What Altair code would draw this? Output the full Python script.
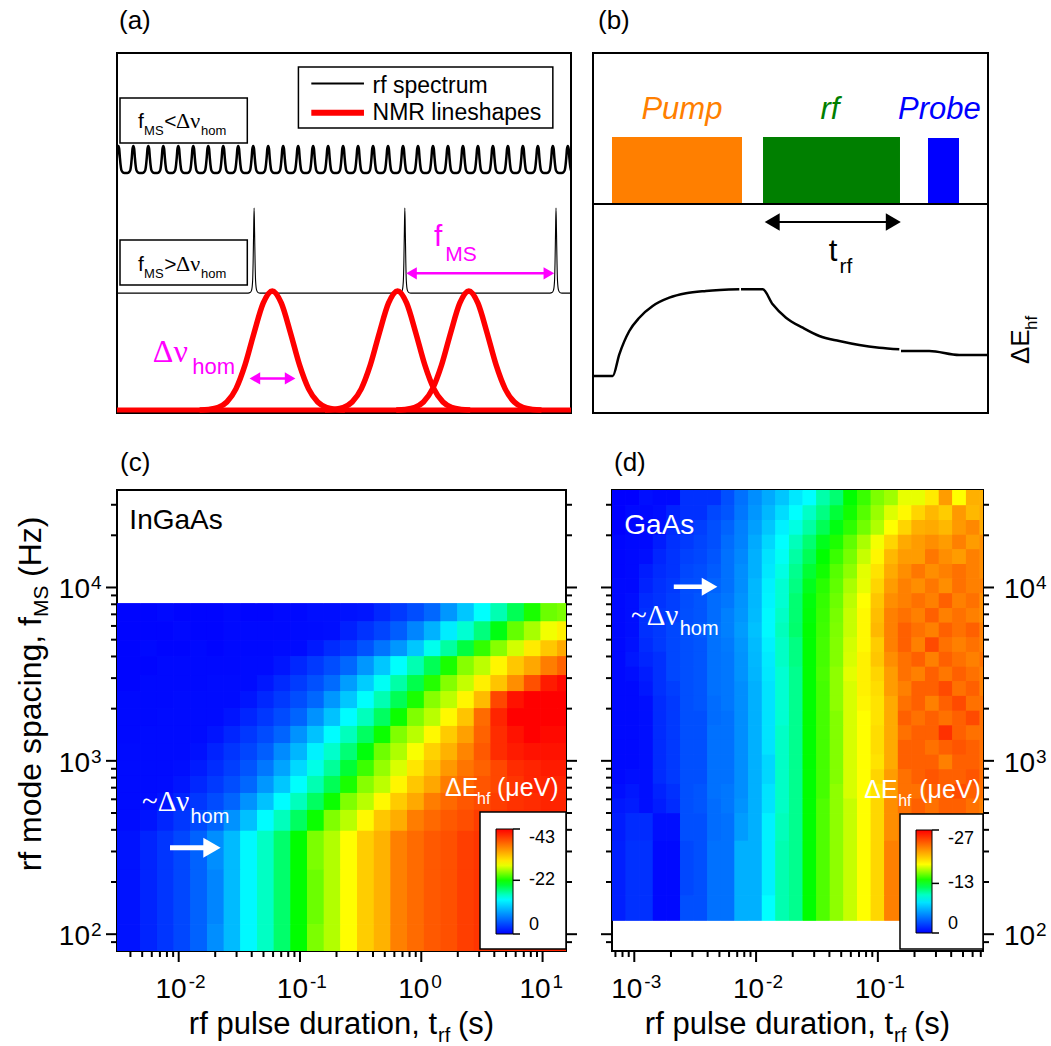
import altair as alt
import pandas as pd

FONT = "Liberation Sans"
SERIF = "Liberation Serif"
MAGENTA = "#FF00FF"
ONE = pd.DataFrame({"k": [0]})

# ======================= DATA =======================
# ---- panel (a): schematic spectra, arbitrary units 0..100 ----
comb_centers = [0.3, 3.6, 6.9, 10.2, 13.5, 16.8, 20.1, 23.4, 26.7, 30.0, 33.3, 36.6, 39.9,
                43.2, 46.5, 49.8, 53.1, 56.4, 59.7, 63.0, 66.3, 69.6, 72.9, 76.2, 79.5,
                82.8, 86.1, 89.4, 92.7, 96.0, 99.3]
comb_dx = [-1.65, -1.1, -0.88, -0.66, -0.49, -0.33, -0.18, 0.0, 0.18, 0.33, 0.49, 0.66, 0.88, 1.1]
comb_y = [66.7, 66.75, 67.0, 67.5, 68.9, 71.1, 73.4, 74.2, 73.4, 71.1, 68.9, 67.5, 67.0, 66.75]

sparse_centers = [30.2, 63.4, 96.7]
sparse_dx = [-1.32, -0.88, -0.55, -0.33, -0.22, -0.11, 0.0, 0.11, 0.22, 0.33, 0.55, 0.88, 1.32]
sparse_y = [33.3, 33.44, 34.13, 36.63, 41.63, 49.97, 56.9, 49.97, 41.63, 36.63, 34.13, 33.44, 33.3]

gauss_centers = [34.2, 61.8, 77.5]
gauss_dx = [-16, -14, -12, -10, -8, -6, -4, -2, 0, 2, 4, 6, 8, 10, 12, 14, 16]
gauss_y = [0.8, 0.97, 1.5, 3.05, 6.7, 13.35, 22.3, 30.5, 33.9, 30.5, 22.3, 13.35, 6.7, 3.05, 1.5, 0.97, 0.8]

# ---- panel (b): Delta E_hf trace, arbitrary units ----
trace_x = [[0, 4.99, 6.66, 9.19, 11.72, 15.11, 19.32, 23.54, 28.61, 37.04],
           [37.47, 42.96, 45.49, 48.86, 53.09, 57.29, 62.35, 67.42, 72.48, 77.54],
           [77.97, 85.14, 92.73, 100.0]]
trace_y = [[10.28, 10.28, 16.31, 22.78, 26.47, 29.72, 32.03, 33.25, 33.89, 34.36],
           [34.36, 34.36, 30.19, 26.47, 23.69, 21.39, 20.0, 18.89, 18.14, 17.69],
           [17.22, 17.22, 16.11, 16.11]]

# ---- panel (c): InGaAs map, |Delta E_hf| in ueV ----
c_t_edges = [0.0031, 0.00482, 0.00662, 0.00908, 0.01247, 0.0171, 0.0235, 0.0322, 0.0443,
             0.0607, 0.0834, 0.1143, 0.157, 0.215, 0.296, 0.406, 0.557, 0.764, 1.05, 1.44,
             1.98, 2.71, 3.72, 5.11, 7.01, 9.62, 13.2, 15.6]
c_f_edges = [8090, 6370, 4950, 4010, 3120, 2520, 2010, 1590, 1265, 1010, 818, 653, 521, 395, 235, 114, 80]
c_mag = [
    [0.3, 0.3, 0.5, 0.3, 0.3, 0.3, 0.5, 0.3, 0.3, 0.5, 0.5, 0.8, 0.8, 1.0, 1.2, 2.2, 3.2, 4.3, 5.8, 8.5, 11.2, 14.4, 16.5, 19.1, 22.2, 24.5, 25.0],
    [0.3, 0.3, 0.3, 0.5, 0.3, 0.3, 0.5, 0.5, 0.5, 0.5, 0.6, 0.7, 0.8, 1.8, 2.8, 3.8, 5.2, 7.5, 10.0, 13.3, 15.6, 18.0, 21.0, 24.3, 26.2, 28.3, 29.5],
    [0.3, 0.5, 0.3, 0.3, 0.5, 0.3, 0.5, 0.5, 0.5, 0.6, 0.6, 1.4, 2.4, 3.2, 4.6, 6.5, 8.5, 11.2, 14.8, 17.0, 19.7, 22.9, 25.3, 27.4, 29.8, 31.8, 33.5],
    [0.3, 0.3, 0.5, 0.5, 0.5, 0.5, 0.5, 0.6, 0.6, 1.2, 2.2, 3.2, 4.3, 5.8, 8.5, 11.2, 14.4, 16.5, 19.1, 22.2, 25.3, 26.8, 29.2, 31.8, 33.6, 36.0, 37.5],
    [0.3, 0.5, 0.5, 0.5, 0.5, 0.6, 0.6, 0.6, 1.3, 2.3, 3.3, 4.5, 6.0, 8.8, 11.5, 14.6, 16.8, 19.4, 22.5, 25.2, 27.0, 29.5, 32.0, 35.0, 38.5, 41.5, 42.5],
    [0.5, 0.5, 0.5, 0.6, 0.6, 0.6, 0.6, 1.2, 2.2, 3.2, 4.3, 5.8, 8.5, 11.2, 14.4, 16.5, 19.1, 22.2, 25.3, 26.8, 29.2, 32.5, 39.0, 42.0, 43.0, 43.0, 43.0],
    [0.5, 0.5, 0.6, 0.6, 0.6, 0.6, 1.1, 2.1, 3.1, 4.2, 5.6, 8.2, 10.9, 14.2, 16.2, 18.8, 21.8, 25.1, 26.7, 29.0, 32.0, 37.0, 41.0, 43.0, 43.0, 43.0, 43.0],
    [0.5, 0.6, 0.6, 0.6, 0.6, 1.1, 2.1, 3.1, 4.2, 5.6, 8.2, 10.9, 14.2, 16.2, 18.8, 21.8, 25.1, 26.7, 29.0, 31.6, 34.0, 37.5, 40.5, 42.0, 43.0, 42.5, 42.5],
    [0.6, 0.6, 0.6, 0.6, 0.9, 1.9, 2.9, 3.9, 5.3, 7.8, 10.2, 13.6, 15.8, 18.2, 21.2, 24.6, 26.4, 28.5, 31.2, 33.0, 35.5, 38.0, 40.5, 41.5, 42.0, 42.0, 42.0],
    [0.6, 0.6, 0.6, 0.8, 1.5, 2.5, 3.5, 4.7, 6.7, 9.2, 12.2, 15.0, 17.2, 20.0, 23.2, 25.7, 27.6, 30.1, 32.2, 34.4, 36.4, 37.5, 39.0, 40.5, 41.0, 41.5, 41.5],
    [0.6, 0.6, 0.7, 1.2, 2.2, 3.2, 4.3, 5.8, 8.5, 11.2, 14.4, 16.5, 19.1, 22.2, 25.3, 26.8, 29.2, 31.8, 33.6, 36.0, 37.2, 38.2, 39.0, 40.0, 41.0, 41.0, 41.0],
    [0.6, 0.7, 1.1, 2.1, 3.1, 4.2, 5.6, 8.2, 10.9, 14.2, 16.2, 18.8, 21.8, 25.1, 26.7, 29.0, 31.6, 33.5, 36.0, 37.1, 38.1, 38.8, 39.6, 40.2, 40.5, 41.0, 41.0],
    [0.7, 1.1, 2.1, 3.1, 4.1, 5.6, 8.2, 10.8, 14.2, 16.2, 18.8, 21.8, 25.1, 26.7, 29.0, 31.8, 33.3, 36.0, 37.1, 38.0, 38.6, 39.6, 40.0, 40.5, 40.5, 41.0, 41.0],
    [1.0, 2.0, 3.0, 4.0, 5.5, 8.0, 10.5, 14.0, 16.0, 18.5, 21.5, 25.0, 26.5, 28.7, 31.5, 33.0, 35.8, 37.0, 38.0, 38.5, 39.5, 40.0, 40.5, 40.5, 41.0, 41.0, 41.0],
    [1.0, 2.0, 3.0, 4.0, 5.5, 7.5, 10.5, 14.0, 16.0, 18.5, 21.5, 24.5, 26.5, 28.7, 31.5, 33.0, 35.8, 37.0, 38.0, 38.5, 39.5, 40.0, 40.5, 41.0, 41.0, 41.0, 41.0],
    [1.0, 2.0, 3.0, 4.0, 5.5, 8.0, 10.5, 14.0, 16.0, 18.5, 21.5, 25.0, 26.5, 28.7, 31.5, 33.0, 35.8, 37.0, 38.0, 38.5, 39.5, 40.0, 40.5, 40.5, 41.0, 41.0, 41.0],
]

# ---- panel (d): GaAs map, |Delta E_hf| in ueV ----
d_t_edges = [6.56e-4, 8.49e-4, 1.099e-3, 1.419e-3, 1.837e-3, 2.377e-3, 3.076e-3, 3.972e-3,
             5.14e-3, 6.65e-3, 8.61e-3, 1.114e-2, 1.439e-2, 1.862e-2, 2.41e-2, 3.119e-2,
             4.027e-2, 5.21e-2, 6.75e-2, 8.73e-2, 0.1127, 0.1459, 0.1888, 0.2443, 0.3162,
             0.4083, 0.5284, 0.684, 0.73]
d_f_edges = [36500, 29760, 24490, 20140, 16600, 13650, 11250, 9250, 7600, 6270, 5150, 4250,
             3490, 2880, 2370, 1945, 1600, 1320, 1085, 893, 736, 605, 498, 346, 167, 120]
d_mag = [
    [0, 0, 0.5, 0.3, 0.3, 1.7, 1.7, 1.7, 2.8, 4, 5, 6, 7, 8.2, 9, 10.5, 11.5, 13.5, 14.5, 15.7, 16.3, 17.6, 17.6, 18.7, 21.5, 18, 20.8, 20.8],
    [0, 0.3, 0.3, 0.5, 1.2, 1.7, 1.7, 2.5, 3, 4.2, 5.3, 6.5, 7.8, 9, 10, 11.2, 12.5, 13.8, 15, 16.2, 17.4, 18.2, 19.5, 20.5, 19.8, 21.6, 20.5, 21],
    [0, 0.2, 0.3, 0.5, 1.5, 1.7, 2.2, 2.8, 3.5, 4.5, 5.6, 7, 8.5, 9.5, 10.6, 12, 13.2, 14.3, 15.5, 16.6, 18, 19.5, 20.8, 21, 20.5, 21.6, 22.2, 21],
    [0.2, 0.3, 0.3, 1, 1.7, 2, 2.4, 2.8, 3.8, 4.6, 6, 7.6, 9, 10.2, 11.5, 13, 14, 15.2, 16.5, 17.8, 19.5, 21, 21.5, 22, 21.5, 22.5, 21.5, 22],
    [0.2, 0.3, 0.5, 1.3, 1.8, 2.3, 2.5, 3, 4, 4.8, 6.2, 8, 9.2, 10.6, 12, 13.5, 14.5, 15.6, 17, 18.3, 20.5, 21.5, 21.5, 22.8, 22, 21.5, 22.5, 22],
    [0.2, 0.3, 1, 1.5, 1.8, 2.5, 2.7, 3.2, 4, 5, 6.2, 8.2, 9.5, 11, 12.6, 13.8, 15, 16, 17.5, 19, 21, 22, 22.8, 22, 22.5, 23, 22.5, 22],
    [0.3, 0.3, 1.2, 1.7, 2, 2.7, 2.8, 3.5, 4, 5, 6.5, 8.5, 9.8, 11.2, 13, 14.2, 15.2, 16.5, 17.6, 19.5, 21.5, 22.5, 22, 22.8, 22, 23, 22.5, 22.5],
    [0.3, 0.5, 1.5, 1.8, 2.2, 2.7, 3, 3.8, 4.2, 5.2, 6.5, 8.6, 9.8, 11.5, 13.3, 14.4, 15.4, 16.8, 18, 20, 22, 22.5, 23, 22.5, 23.6, 22.5, 23, 22],
    [0.3, 0.5, 1.7, 2, 2.2, 2.8, 3, 3.8, 4.5, 5.3, 6.6, 8.8, 10, 11.5, 13.4, 14.5, 15.6, 17, 18.2, 20.3, 22.5, 23, 22.5, 23.6, 22.5, 23, 22.5, 22],
    [0.3, 0.5, 1.7, 2, 2.5, 2.8, 3.2, 4, 4.5, 5.5, 6.8, 8.8, 10.2, 11.6, 13.5, 14.6, 15.7, 17, 18.2, 20.5, 22.5, 23.6, 23, 22.5, 23.6, 23, 23.6, 22.5],
    [0.3, 0.6, 1.5, 2, 2.5, 2.8, 3, 4, 4.3, 5.3, 6.6, 8.5, 10, 11.2, 13.5, 14.7, 15.8, 17.2, 18.2, 19.8, 22.5, 23.6, 22.5, 24.4, 23, 22.5, 23, 22.5],
    [0.3, 0.8, 1.3, 1.7, 2.5, 2.8, 3, 4, 4.2, 5.2, 6.5, 8.3, 10, 11.2, 13.5, 14.7, 15.8, 17.3, 18.5, 20, 22, 23, 23.6, 22.5, 23.6, 23, 22.5, 23],
    [0.3, 0.5, 1, 1.7, 2.5, 2.8, 3, 4, 4.2, 5.2, 6.4, 8.2, 9.8, 11, 13.5, 14.8, 16, 17.5, 18.5, 19.5, 21.5, 23, 22.5, 23.6, 22.8, 23.6, 23, 22.5],
    [0.3, 0.3, 0.8, 1.7, 2.2, 2.8, 3, 4, 4.2, 5, 6.2, 8, 9.8, 11, 13.5, 14.7, 16, 17.3, 18.5, 19.2, 21.5, 22.5, 23.6, 23.6, 24.4, 23, 23.6, 22.5],
    [0.3, 0.3, 0.5, 1.5, 2, 2.8, 3, 3.8, 4.2, 5, 6.2, 8, 9.8, 11, 13.5, 14.7, 16, 17.3, 18.3, 19, 21, 23, 23.6, 22.5, 23.6, 24.4, 23, 23],
    [0.3, 0.3, 0.5, 1.5, 2, 2.8, 2.8, 3.8, 4, 5, 6.2, 8, 9.8, 11, 13.5, 14.7, 15.8, 17.3, 18, 19, 21, 23.6, 23, 23.6, 23, 23.6, 24.4, 23],
    [0.3, 0.3, 0.5, 1.5, 2, 2.8, 2.8, 4, 4, 5, 6.2, 8, 10, 11, 13.5, 14.7, 15.8, 17.3, 18, 19.2, 21, 23, 23.6, 23.6, 25.3, 23.6, 23, 23],
    [0.3, 0.3, 0.5, 1.5, 2, 2.8, 2.8, 4, 4, 5, 6.2, 8, 10, 11, 13.5, 14.7, 15.8, 17.3, 18, 19.2, 21, 23.6, 23.6, 23, 23.6, 24, 23.6, 23],
    [0.3, 0.3, 0.5, 1.5, 2, 2.8, 2.8, 4, 4, 5, 6.2, 7.6, 10, 11, 13.5, 14.7, 15.8, 17.3, 18, 19, 21, 23.6, 23.6, 23.6, 22.5, 23.6, 23.6, 23],
    [0.3, 0.5, 0.5, 1.5, 2, 2.8, 2.8, 4, 4, 5, 6.2, 7.6, 10, 11, 13.5, 14.7, 15.8, 17.3, 18, 19.5, 21.5, 23, 23.6, 24, 23.6, 23.6, 24, 23],
    [0.5, 0.8, 0.5, 1.2, 1.7, 2.8, 3, 4, 4.2, 5, 6.2, 8, 10, 11, 13.5, 14.7, 16, 17.3, 18, 19, 21.5, 23, 23, 23.6, 23.6, 24.4, 23.6, 23],
    [0.8, 1, 0.5, 1, 1.5, 2.8, 3, 3.8, 4.2, 5.2, 6.2, 8, 10, 11, 13.5, 14.9, 16, 17, 18, 19.4, 22, 23, 23.6, 23, 23.6, 23.6, 23, 22.5],
    [1, 1.5, 1.5, 0.5, 0.5, 2.8, 2.8, 3.8, 4, 5.5, 6.2, 8.5, 10.2, 11, 13.5, 14.9, 16, 17, 18, 19.4, 22, 22.5, 23, 23, 23.6, 23, 23, 22],
    [1.1, 1.7, 1.7, 0.3, 0.3, 2.5, 2.8, 4, 4, 6.2, 6.2, 8.5, 10.4, 11, 13.5, 14.9, 16, 17, 18, 19.4, 22.5, 22.5, 23, 23, 23, 23, 23, 22],
    [1.1, 1.7, 1.7, 0.3, 0.3, 2.8, 2.8, 4, 4, 6.2, 6.2, 9, 10.4, 11, 13.5, 14.9, 16, 17, 18, 19.4, 22.5, 22.5, 23, 23, 23, 23, 23, 22],
]

# ---- axes ticks and tick labels ----
c_x_major = [0.01, 0.1, 1, 10]
c_x_exp = ["-2", "-1", "0", "1"]
c_x_minor = [0.004, 0.005, 0.006, 0.007, 0.008, 0.009, 0.02, 0.03, 0.04, 0.05, 0.06, 0.07, 0.08, 0.09,
             0.2, 0.3, 0.4, 0.5, 0.6, 0.7, 0.8, 0.9, 2, 3, 4, 5, 6, 7, 8, 9]
d_x_major = [0.001, 0.01, 0.1]
d_x_exp = ["-3", "-2", "-1"]
d_x_minor = [0.0007, 0.0008, 0.0009, 0.002, 0.003, 0.004, 0.005, 0.006, 0.007, 0.008, 0.009,
             0.02, 0.03, 0.04, 0.05, 0.06, 0.07, 0.08, 0.09, 0.2, 0.3, 0.4, 0.5, 0.6, 0.7]
y_major = [100, 1000, 10000]
y_exp = ["2", "3", "4"]
y_minor = [90, 200, 300, 400, 500, 600, 700, 800, 900, 2000, 3000, 4000, 5000, 6000, 7000,
           8000, 9000, 20000, 30000]
c_legend_vals = [-43, -22, 0]
d_legend_vals = [-27, -13, 0]
JET = ["#0000FF", "#00FFFF", "#00FF00", "#FFFF00", "#FF0000"]

# ======================= HELPERS =======================
def lin(lo, hi):
    return alt.Scale(domain=[lo, hi], nice=False, zero=False)

def logs(lo, hi):
    return alt.Scale(type="log", domain=[lo, hi], nice=False)

def XD(v, s):
    return alt.XDatum(v, type="quantitative", scale=s, axis=None)

def YD(v, s):
    return alt.YDatum(v, type="quantitative", scale=s, axis=None)

def dtext(s, x, y, sx, sy, size, color="black", font=FONT, align="left",
          baseline="alphabetic", style="normal"):
    return alt.Chart(ONE).mark_text(text=s, font=font, fontSize=size, color=color, align=align,
                                    baseline=baseline, fontStyle=style).encode(x=XD(x, sx), y=YD(y, sy))

def ptext(s, px, py, size, color="black", font=FONT, align="left", baseline="alphabetic", angle=0):
    return alt.Chart(ONE).mark_text(text=s, font=font, fontSize=size, color=color, align=align,
                                    baseline=baseline, angle=angle).encode(x=alt.value(px), y=alt.value(py))

def drule(x0, x1, y0, y1, sx, sy, color, width):
    return alt.Chart(ONE).mark_rule(color=color, strokeWidth=width).encode(
        x=XD(x0, sx), x2=alt.X2Datum(x1), y=YD(y0, sy), y2=alt.Y2Datum(y1))

def prule(x0, x1, y0, y1, color="black", width=1.5):
    return alt.Chart(ONE).mark_rule(color=color, strokeWidth=width).encode(
        x=alt.value(x0), x2=alt.value(x1), y=alt.value(y0), y2=alt.value(y1))

def dhead(x, y, sx, sy, shape, size, color):
    return alt.Chart(ONE).mark_point(shape=shape, size=size, filled=True, color=color,
                                     opacity=1, strokeWidth=0).encode(x=XD(x, sx), y=YD(y, sy))

def dbox(x0, x1, y0, y1, sx, sy, fill="white", stroke="black", sw=1.5):
    return alt.Chart(ONE).mark_rect(fill=fill, stroke=stroke, strokeWidth=sw).encode(
        x=XD(x0, sx), x2=alt.X2Datum(x1), y=YD(y0, sy), y2=alt.Y2Datum(y1))

def pbox(x0, x1, y0, y1):
    return alt.Chart(ONE).mark_rect(fill="white", stroke="black", strokeWidth=1.5).encode(
        x=alt.value(x0), x2=alt.value(x1), y=alt.value(y0), y2=alt.value(y1))

def dline(df, sx, sy, color, width, clip=False, interp="monotone"):
    return alt.Chart(df).mark_line(color=color, strokeWidth=width, interpolate=interp, clip=clip).encode(
        x=alt.X("x:Q", scale=sx, axis=None), y=alt.Y("y:Q", scale=sy, axis=None),
        detail="g:N", order="i:Q")

def yticks(vals, s, x0, x1):
    return alt.Chart(pd.DataFrame({"v": vals})).mark_rule(color="black", strokeWidth=2).encode(
        y=alt.Y("v:Q", scale=s, axis=None), x=alt.value(x0), x2=alt.value(x1))

def xticks(vals, s, y0, y1):
    return alt.Chart(pd.DataFrame({"v": vals})).mark_rule(color="black", strokeWidth=2).encode(
        x=alt.X("v:Q", scale=s, axis=None), y=alt.value(y0), y2=alt.value(y1))

def xlabels(vals, exps, s, ybase):
    df = pd.DataFrame({"v": vals, "e": exps})
    base = alt.Chart(df).mark_text(text="10", font=FONT, fontSize=28, align="right",
                                   baseline="alphabetic", dx=8).encode(
        x=alt.X("v:Q", scale=s, axis=None), y=alt.value(ybase))
    sup = alt.Chart(df).mark_text(font=FONT, fontSize=19, align="left",
                                  baseline="alphabetic", dx=10).encode(
        x=alt.X("v:Q", scale=s, axis=None), y=alt.value(ybase - 10), text="e:N")
    return [base, sup]

def ylabels(vals, exps, s, xbase_right=None, xbase_left=None):
    df = pd.DataFrame({"v": vals, "e": exps})
    if xbase_right is not None:
        bx, ba, ex = xbase_right - 11, "right", xbase_right - 10
    else:
        bx, ba, ex = xbase_left, "left", xbase_left + 32
    base = alt.Chart(df).mark_text(text="10", font=FONT, fontSize=28, align=ba,
                                   baseline="alphabetic", dy=11).encode(
        y=alt.Y("v:Q", scale=s, axis=None), x=alt.value(bx))
    sup = alt.Chart(df).mark_text(font=FONT, fontSize=19, align="left",
                                  baseline="alphabetic", dy=2).encode(
        y=alt.Y("v:Q", scale=s, axis=None), x=alt.value(ex), text="e:N")
    return [base, sup]

def heat_df(t_edges, f_edges, mags):
    rows = []
    for i, row in enumerate(mags):
        for j, m in enumerate(row):
            rows.append({"t0": t_edges[j], "t1": t_edges[j + 1],
                         "f0": f_edges[i + 1], "f1": f_edges[i], "E": -m})
    return pd.DataFrame(rows)

def legend(x, y, length, thick, vals):
    return alt.Legend(type="gradient", orient="none", legendX=x, legendY=y, direction="vertical",
                      title=None, values=vals, gradientLength=length, gradientThickness=thick,
                      gradientStrokeColor="black", gradientStrokeWidth=1, labelFont=FONT,
                      labelFontSize=18, labelColor="black", labelOffset=16, labelBaseline="middle",
                      labelExpr="'' + datum.value", padding=0)

def heat_layers(df, sx, sy, cscale, leg, copies=3):
    # identical stacked copies hide the anti-aliasing seams between adjacent cells
    out = []
    for _ in range(copies):
        out.append(alt.Chart(df).mark_rect(strokeWidth=0).encode(
            x=alt.X("t0:Q", scale=sx, axis=None),
            x2=alt.X2("t1"),
            y=alt.Y("f0:Q", scale=sy, axis=None),
            y2=alt.Y2("f1"),
            color=alt.Color("E:Q", scale=cscale, legend=leg)))
    return out

def anchor(x, y):
    return alt.Chart(ONE).mark_rect(opacity=0).encode(
        x=alt.value(x), x2=alt.value(x + 1), y=alt.value(y), y2=alt.value(y + 1))

# ======================= PANEL (a) =======================
AX, AY = lin(0, 100), lin(0, 100)
pts = [(c + dx, y) for c in comb_centers for dx, y in zip(comb_dx, comb_y)]
pts.append((comb_centers[-1] + 1.65, comb_y[0]))
comb_df = pd.DataFrame({"x": [p[0] for p in pts], "y": [p[1] for p in pts],
                        "i": list(range(len(pts))), "g": 0})
sp = [(0.0, sparse_y[0])] + [(c + dx, y) for c in sparse_centers for dx, y in zip(sparse_dx, sparse_y)] + [(100.0, sparse_y[0])]
sparse_df = pd.DataFrame({"x": [p[0] for p in sp], "y": [p[1] for p in sp],
                          "i": list(range(len(sp))), "g": 0})
g_rows = []
for gi, c in enumerate(gauss_centers):
    for k, (dx, y) in enumerate(zip(gauss_dx, gauss_y)):
        g_rows.append({"x": c + dx, "y": y, "i": k, "g": gi})
gauss_df = pd.DataFrame(g_rows)

layers_a = [
    anchor(-116, -52),
    anchor(0, 370),
    dline(comb_df, AX, AY, "black", 2.5, clip=True),
    dline(sparse_df, AX, AY, "black", 1.1, clip=True),
    drule(0, 100, 0.8, 0.8, AX, AY, "#FF0000", 5),
    dline(gauss_df, AX, AY, "#FF0000", 5.5, clip=True),
    dbox(39.96, 96.0, 79.2, 96.1, AX, AY),
    drule(42.8, 54.4, 91.5, 91.5, AX, AY, "black", 2),
    drule(42.8, 54.4, 83.4, 83.4, AX, AY, "#FF0000", 6),
    dtext("rf spectrum", 56.3, 88.97, AX, AY, 23),
    dtext("NMR lineshapes", 56.3, 81.3, AX, AY, 23),
    dbox(0.66, 28.7, 75.0, 87.5, AX, AY),
    dtext("f", 4.6, 79.1, AX, AY, 21),
    dtext("MS", 5.96, 77.2, AX, AY, 13),
    dtext("<", 10.4, 79.1, AX, AY, 21),
    dtext("Δν", 13.0, 79.1, AX, AY, 22, font=SERIF),
    dtext("hom", 18.5, 77.2, AX, AY, 13),
    dbox(0.66, 28.7, 35.56, 48.06, AX, AY),
    dtext("f", 4.6, 39.4, AX, AY, 21),
    dtext("MS", 5.96, 37.6, AX, AY, 13),
    dtext(">", 10.4, 39.4, AX, AY, 21),
    dtext("Δν", 13.0, 39.4, AX, AY, 22, font=SERIF),
    dtext("hom", 18.5, 37.6, AX, AY, 13),
    drule(64.6, 95.4, 38.8, 38.8, AX, AY, MAGENTA, 2.5),
    dhead(64.87, 38.8, AX, AY, "triangle-left", 150, MAGENTA),
    dhead(95.13, 38.8, AX, AY, "triangle-right", 150, MAGENTA),
    dtext("f", 69.8, 46.4, AX, AY, 30, color=MAGENTA),
    dtext("MS", 72.3, 42.2, AX, AY, 21, color=MAGENTA),
    drule(30.1, 38.4, 9.6, 9.6, AX, AY, MAGENTA, 2.5),
    dhead(30.37, 9.6, AX, AY, "triangle-left", 150, MAGENTA),
    dhead(38.13, 9.6, AX, AY, "triangle-right", 150, MAGENTA),
    dtext("Δν", 7.9, 14.3, AX, AY, 32, color=MAGENTA, font=SERIF),
    dtext("hom", 16.6, 10.7, AX, AY, 22, color=MAGENTA),
    ptext("(a)", 2, -24, 26),
]
panel_a = alt.layer(*layers_a).properties(width=454, height=360)

# ======================= PANEL (b) =======================
BX, BY = lin(0, 100), lin(0, 100)
t_rows = []
for gi, (xs, ys) in enumerate(zip(trace_x, trace_y)):
    for k, (x, y) in enumerate(zip(xs, ys)):
        t_rows.append({"x": x, "y": y, "i": k, "g": gi})
trace_df = pd.DataFrame(t_rows)

layers_b = [
    dbox(4.81, 37.72, 58.06, 76.67, BX, BY, fill="#FF7F00", stroke="#FF7F00", sw=0),
    dbox(43.04, 77.72, 58.06, 76.67, BX, BY, fill="#007F00", stroke="#007F00", sw=0),
    dbox(84.81, 92.66, 58.06, 76.39, BX, BY, fill="#0000FF", stroke="#0000FF", sw=0),
    drule(0, 100, 58.06, 58.06, BX, BY, "black", 2),
    dtext("Pump", 22.5, 81.6, BX, BY, 31, color="#FF7F00", align="center", style="italic"),
    dtext("rf", 60.0, 81.6, BX, BY, 31, color="#007F00", align="center", style="italic"),
    dtext("Probe", 87.7, 81.6, BX, BY, 31, color="#0000FF", align="center", style="italic"),
    drule(45.0, 76.4, 53.06, 53.06, BX, BY, "black", 2),
    dhead(45.37, 53.06, BX, BY, "triangle-left", 300, "black"),
    dhead(76.03, 53.06, BX, BY, "triangle-right", 300, "black"),
    dtext("t", 59.7, 42.2, BX, BY, 31),
    dtext("rf", 62.4, 38.8, BX, BY, 21),
    dline(trace_df, BX, BY, "black", 2.5),
    ptext("ΔE", 436, 311, 26, angle=270),
    ptext("hf", 444, 277, 17, angle=270),
    ptext("(b)", 5, -24, 26),
]
panel_b = alt.layer(*layers_b).properties(width=395, height=360)

# ======================= PANEL (c) =======================
CX, CY = logs(0.0031, 15.6), logs(80, 36500)
col_c = alt.Scale(domain=[0, -14.33, -21.5, -28.67, -43], range=JET, interpolate="rgb")
layers_c = [
    anchor(-116, -60),
    *heat_layers(heat_df(c_t_edges, c_f_edges, c_mag), CX, CY, col_c,
                 legend(379, 339, 105, 17, c_legend_vals)),
    pbox(363, 449, 322, 459),
    prule(396, 403, 339, 339), prule(396, 403, 390.3, 390.3), prule(396, 403, 444, 444),
    xticks(c_x_major, CX, 461, 472),
    xticks(c_x_minor, CX, 461, 467),
    yticks(y_major, CY, -11, 0),
    yticks(y_minor, CY, -6, 0),
    yticks(y_major, CY, 449, 460),
    yticks(y_minor, CY, 449, 455),
    *xlabels(c_x_major, c_x_exp, CX, 508),
    *ylabels(y_major, y_exp, CY, xbase_right=-16),
    dtext("InGaAs", 0.00392, 21800, CX, CY, 28),
    dtext("~Δν", 0.00498, 514, CX, CY, 29, color="white", font=SERIF),
    dtext("hom", 0.0125, 438, CX, CY, 20, color="white"),
    drule(0.00848, 0.0172, 315, 315, CX, CY, "white", 5),
    dhead(0.0188, 315, CX, CY, "triangle-right", 400, "white"),
    dtext("ΔE", 1.568, 627, CX, CY, 25, color="white"),
    dtext("hf", 2.88, 564, CX, CY, 16, color="white"),
    dtext("(μeV)", 4.21, 627, CX, CY, 25, color="white"),
    ptext("rf mode spacing, f", -76, 127, 32, align="right", angle=270),
    ptext("MS", -69, 127, 21, angle=270),
    ptext("(Hz)", -76, 87, 32, angle=270),
    ptext("rf pulse duration, t", 320, 544, 31, align="right"),
    ptext("rf", 321, 552, 20),
    ptext("(s)", 341, 544, 31),
    ptext("(c)", 3, -19, 26),
]
panel_c = alt.layer(*layers_c).properties(width=449, height=461)

# ======================= PANEL (d) =======================
DX, DY = logs(6.56e-4, 0.73), logs(80, 36500)
col_d = alt.Scale(domain=[0, -9, -13.5, -18, -27], range=JET, interpolate="rgb")
layers_d = [
    *heat_layers(heat_df(d_t_edges, d_f_edges, d_mag), DX, DY, col_d,
                 legend(304, 340, 103, 16, d_legend_vals)),
    pbox(288, 371, 324, 459),
    prule(320, 327, 340, 340), prule(320, 327, 393.4, 393.4), prule(320, 327, 443, 443),
    xticks(d_x_major, DX, 461, 472),
    xticks(d_x_minor, DX, 461, 467),
    yticks(y_major, DY, 371, 382),
    yticks(y_minor, DY, 371, 377),
    yticks(y_major, DY, -11, 0),
    yticks(y_minor, DY, -6, 0),
    *xlabels(d_x_major, d_x_exp, DX, 508),
    *ylabels(y_major, y_exp, DY, xbase_left=392),
    dtext("GaAs", 0.000828, 20300, DX, DY, 28, color="white"),
    drule(0.00211, 0.0037, 10100, 10100, DX, DY, "white", 4.5),
    dhead(0.00415, 10100, DX, DY, "triangle-right", 324, "white"),
    dtext("~Δν", 0.00094, 6070, DX, DY, 29, color="white", font=SERIF),
    dtext("hom", 0.00236, 5320, DX, DY, 20, color="white"),
    dtext("ΔE", 0.0772, 611, DX, DY, 25, color="white"),
    dtext("hf", 0.1468, 552, DX, DY, 16, color="white"),
    dtext("(μeV)", 0.2185, 611, DX, DY, 25, color="white"),
    ptext("rf pulse duration, t", 281, 544, 31, align="right"),
    ptext("rf", 282, 552, 20),
    ptext("(s)", 302, 544, 31),
    ptext("(d)", 2, -19, 26),
]
panel_d = alt.layer(*layers_d).properties(width=371, height=461)

# ======================= LAYOUT =======================
row1 = alt.hconcat(panel_a, panel_b, spacing=22, bounds="flush")
row2 = alt.hconcat(panel_c, panel_d, spacing=46, bounds="flush").resolve_scale(color="independent")
chart = (alt.vconcat(row1, row2, spacing=4, bounds="full")
         .resolve_scale(color="independent")
         .properties(padding=0)
         .configure_view(stroke="black", strokeWidth=2))

chart.save("out.html", embed_options={"renderer": "svg", "actions": False})
